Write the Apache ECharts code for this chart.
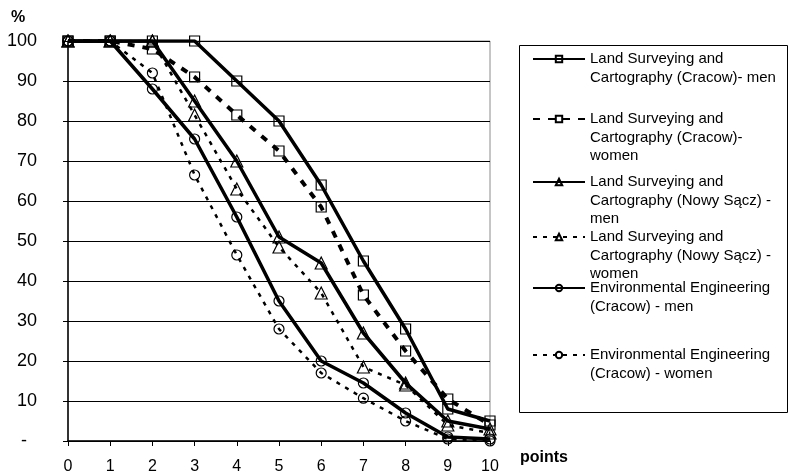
<!DOCTYPE html>
<html>
<head>
<meta charset="utf-8">
<script src="https://cdn.jsdelivr.net/npm/echarts@6/dist/echarts.min.js"></script>
<style>
  html, body { margin: 0; padding: 0; background: #fff; }
  #chart { width: 789px; height: 474px; }
</style>
</head>
<body>
<div id="chart"></div>
<script>
// Score points on the x axis
const points = [0, 1, 2, 3, 4, 5, 6, 7, 8, 9, 10];

// Share of students (%) reaching at least the given number of points
const lscCracowMen     = [100, 100, 100, 100, 90, 80, 64, 45, 28, 8, 5];
const lscCracowWomen   = [100, 100, 98, 91, 81.5, 72.5, 58.5, 36.5, 22.5, 10.5, 4];
const lscNowySaczMen   = [100, 100, 100, 85, 70, 51, 44.5, 27, 14.5, 5, 3];
const lscNowySaczWomen = [100, 100, 100, 81.5, 63, 48.5, 37, 18.5, 14, 4, 2];
const envCracowMen     = [100, 100, 88, 75.5, 56, 35, 20, 14.5, 7, 1, 0.5];
const envCracowWomen   = [100, 100, 92, 66.5, 46.5, 28, 17, 10.7, 5, 0.5, 0];

const seriesNames = [
  'Land Surveying and\nCartography (Cracow)- men',
  'Land Surveying and\nCartography (Cracow)-\nwomen',
  'Land Surveying and\nCartography (Nowy Sącz) -\nmen',
  'Land Surveying and\nCartography (Nowy Sącz) -\nwomen',
  'Environmental Engineering\n(Cracow) - men',
  'Environmental Engineering\n(Cracow) - women'
];
const seriesValues = [lscCracowMen, lscCracowWomen, lscNowySaczMen, lscNowySaczWomen, envCracowMen, envCracowWomen];

// Line / marker appearance per series
const looks = [
  { symbol: 'rect',     size: 10, width: 3.5, type: 'solid' },
  { symbol: 'rect',     size: 10, width: 4,   type: [7, 8] },
  { symbol: 'triangle', size: 12, width: 3.5, type: 'solid' },
  { symbol: 'triangle', size: 12, width: 2.5, type: [4, 6] },
  { symbol: 'circle',   size: 10, width: 3.5, type: 'solid' },
  { symbol: 'circle',   size: 10, width: 2.5, type: [4, 6] }
];

const FONT = 'Liberation Sans, Arial, sans-serif';

const series = seriesNames.map((name, i) => ({
  name: name,
  type: 'line',
  data: points.map((p, k) => [p, seriesValues[i][k]]),
  symbol: looks[i].symbol,
  symbolSize: looks[i].size,
  showSymbol: true,
  lineStyle: { color: '#000', width: looks[i].width, type: looks[i].type },
  itemStyle: { color: 'rgba(255,255,255,0)', borderColor: '#000', borderWidth: 1.2 },
  emphasis: { disabled: true },
  z: 3
}));

// One legend block per entry so every entry sits at its own height.
// Blank leading lines keep the first text line level with the key.
const legendCenters = [59, 119, 182, 237, 288, 355];
const LH = 18.5;
const legends = seriesNames.map((name, i) => {
  const n = name.split('\n').length;
  const blockH = (2 * n - 1) * LH;
  return {
    data: [name],
    formatter: label => '\n'.repeat(n - 1) + label,
    left: 532,
    top: legendCenters[i] - blockH / 2,
    padding: 0,
    itemWidth: 52,
    itemHeight: 8,
    selectedMode: false,
    textStyle: { fontFamily: FONT, fontSize: 15, color: '#000', lineHeight: LH }
  };
});

const chart = echarts.init(document.getElementById('chart'), null, { renderer: 'canvas' });
chart.setOption({
  animation: false,
  backgroundColor: '#fff',
  grid: {
    left: 68, right: 299, top: 41, bottom: 33,
    outerBoundsMode: 'none', containLabel: false,
    show: true, borderColor: '#8c8c8c', borderWidth: 1
  },
  xAxis: {
    type: 'value', min: 0, max: 10, interval: 1,
    axisLine: { lineStyle: { color: '#000', width: 1.5 } },
    axisTick: { show: true, length: 5, lineStyle: { color: '#000' } },
    axisLabel: { fontFamily: FONT, fontSize: 16, color: '#000', margin: 18 },
    splitLine: { show: false }
  },
  yAxis: {
    type: 'value', min: 0, max: 100, interval: 10,
    axisLine: { show: true, lineStyle: { color: '#000', width: 1.5 } },
    axisTick: { show: true, length: 5, lineStyle: { color: '#000' } },
    axisLabel: {
      fontFamily: FONT, fontSize: 18, color: '#000', margin: 31,
      formatter: v => (v === 0 ? '-  ' : String(v))
    },
    splitLine: { show: true, lineStyle: { color: '#000', width: 1 } }
  },
  legend: legends,
  graphic: [
    { type: 'rect', shape: { x: 519.5, y: 45.5, width: 268, height: 367 },
      style: { fill: 'none', stroke: '#000', lineWidth: 1 }, z: -1 },
    { type: 'text', left: 11, top: 10,
      style: { text: '%', font: 'bold 16px ' + FONT, fill: '#000' } },
    { type: 'text', left: 520, top: 450,
      style: { text: 'points', font: 'bold 16px ' + FONT, fill: '#000' } }
  ],
  series: series
});
</script>
</body>
</html>
